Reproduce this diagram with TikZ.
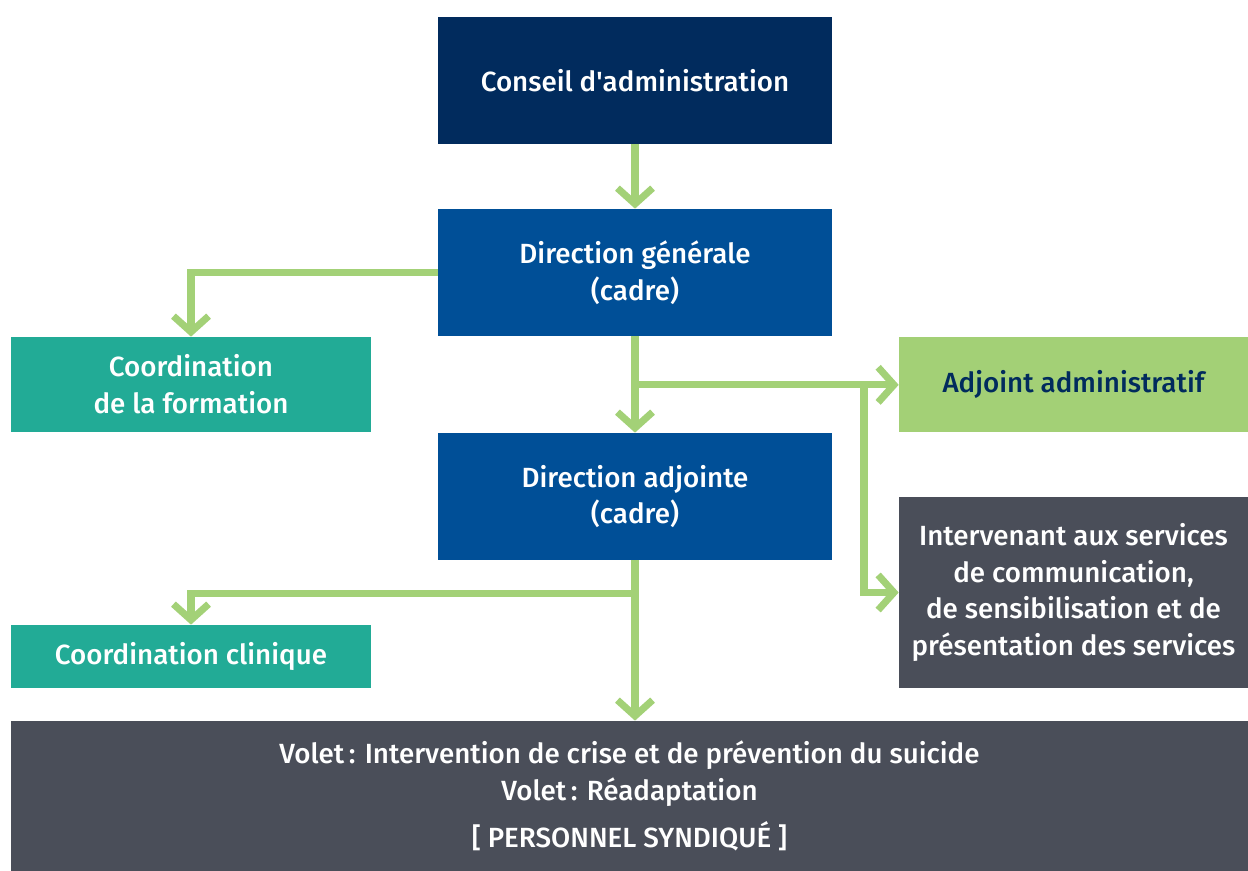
\documentclass[tikz,border=0pt]{standalone}
\usepackage{fontspec}
\setmainfont{Fira Sans}[UprightFont=* Medium]
\usetikzlibrary{arrows.meta,calc}
\definecolor{navy}{HTML}{012B5D}
\definecolor{dblue}{HTML}{004F97}
\definecolor{teal}{HTML}{22AB96}
\definecolor{lgreen}{HTML}{A3D076}
\definecolor{dgray}{HTML}{4A4E59}
\definecolor{argreen}{HTML}{A3D177}
\tikzset{
  box/.style={inner sep=0pt, align=center, text=white, font=\fontsize{15.8}{21}\selectfont},
  conn/.style={draw=argreen, line width=4pt, line join=miter},
  arr/.style={conn, -{Straight Barb[length=9pt,width=20pt]}},
}
\begin{document}
\begin{tikzpicture}[x=0.02cm,y=-0.02cm]
\useasboundingbox (0,0) rectangle (1248,871);
\node[box, fill=navy, minimum width=7.88cm, minimum height=2.54cm] (ca) at (635,80.5) {Conseil d\textquotesingle administration};
\node[box, fill=dblue, minimum width=7.88cm, minimum height=2.54cm] (dg) at (635,272.5) {Direction générale\\(cadre)};
\node[box, fill=dblue, minimum width=7.88cm, minimum height=2.54cm] (da) at (635,496.5) {Direction adjointe\\(cadre)};
\node[box, fill=teal, minimum width=7.2cm, minimum height=1.9cm] (cf) at (191,384.5) {Coordination\\de la formation};
\node[box, fill=lgreen, text=navy, minimum width=6.98cm, minimum height=1.9cm] (aa) at (1073.5,384.5) {Adjoint administratif};
\node[box, fill=dgray, minimum width=6.98cm, minimum height=3.82cm] (int) at (1073.5,592.5) {Intervenant aux services\\de communication,\\de sensibilisation et de\\présentation des services};
\node[box, fill=teal, minimum width=7.2cm, minimum height=1.26cm] (cc) at (191,656.5) {Coordination clinique};
\node[box, fill=dgray, minimum width=24.74cm, minimum height=3cm] (vo) at (629.5,796) {Volet\,: Intervention de crise et de prévention du suicide\\Volet\,: Réadaptation\\[6pt][ PERSONNEL SYNDIQUÉ ]};
\coordinate (j1) at ($(dg.south)+(0,48.5)$);
\coordinate (j3) at ($(j1)+(229,0)$);
\coordinate (j2) at ($(da.south)+(0,33)$);
\draw[arr] (ca.south) -- (dg.north);
\draw[arr] (dg.west) -| (cf.north);
\draw[arr] (dg.south) -- (da.north);
\draw[arr] (j1) -- (j1 -| aa.west);
\draw[arr] (j3) |- (int.west);
\draw[arr] (da.south) -- (da.south |- vo.north);
\draw[arr] (j2) -| (cc.north);
\end{tikzpicture}
\end{document}
